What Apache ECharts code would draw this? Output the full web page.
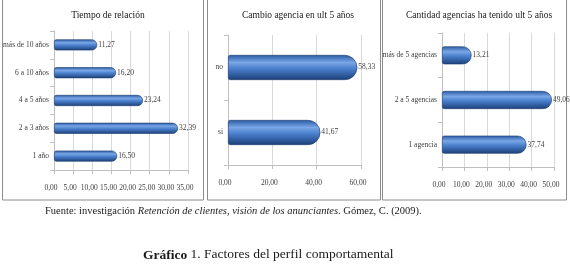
<!DOCTYPE html>
<html>
<head>
<meta charset="utf-8">
<script src="https://cdn.jsdelivr.net/npm/echarts@6/dist/echarts.min.js"></script>
<style>
  html, body { margin: 0; padding: 0; background: #fff; }
  #chart { width: 570px; height: 266px; }
</style>
</head>
<body>
<div id="chart"></div>
<script>
// panel 1 - Tiempo de relación
const tiempoCats = ['1 año', '2 a 3 años', '4 a 5 años', '6 a 10 años', 'más de 10 años'];
const tiempoVals = [16.50, 32.39, 23.24, 16.20, 11.27];
// panel 2 - Cambio agencia
const cambioCats = ['si', 'no'];
const cambioVals = [41.67, 58.33];
// panel 3 - Cantidad agencias
const cantidadCats = ['1 agencia', '2 a 5 agencias', 'más de 5 agencias'];
const cantidadVals = [37.74, 49.06, 13.21];

const serif = '"Liberation Serif", "DejaVu Serif", serif';
const fmt = v => v.toFixed(2).replace('.', ',');

const barColor = new echarts.graphic.LinearGradient(0, 0, 0, 1, [
  { offset: 0, color: '#2a5aa3' },
  { offset: 0.3, color: '#79a6e6' },
  { offset: 0.55, color: '#4a7fcc' },
  { offset: 1, color: '#1b3f78' }
]);

const panels = [
  { title: 'Tiempo de relación', cx: 103, grid: { left: 53, top: 31, width: 135, height: 139 }, max: 35, interval: 5, cats: tiempoCats, vals: tiempoVals, bw: 11 },
  { title: 'Cambio agencia en ult 5 años', cx: 293, grid: { left: 228, top: 35, width: 133, height: 130 }, max: 60, interval: 20, cats: cambioCats, vals: cambioVals, bw: 25 },
  { title: 'Cantidad agencias ha tenido ult 5 años', cx: 474, grid: { left: 442, top: 33, width: 112, height: 134 }, max: 50, interval: 10, cats: cantidadCats, vals: cantidadVals, bw: 18 }
];

// width of the bold word of the caption, so the rest can follow it
const ctx = document.createElement('canvas').getContext('2d');
ctx.font = 'bold 13.5px ' + serif;
const boldW = ctx.measureText('Gráfico').width;

const chart = echarts.init(document.getElementById('chart'), null, { renderer: 'canvas' });

const option = {
  animation: false,
  title: panels.map(p => ({
    text: p.title,
    left: p.cx,
    top: 5,
    textAlign: 'center',
    textStyle: { fontFamily: serif, fontSize: 9.5, fontWeight: 'normal', color: '#1a1a1a' }
  })),
  grid: panels.map(p => p.grid),
  xAxis: panels.map((p, i) => ({
    type: 'value',
    gridIndex: i,
    min: 0,
    max: p.max,
    interval: p.interval,
    axisLine: { show: true, lineStyle: { color: '#bfbfbf' } },
    axisTick: { show: true, length: 4, lineStyle: { color: '#bfbfbf' } },
    axisLabel: { fontFamily: serif, fontSize: 7.5, color: '#404040', margin: 14, formatter: fmt, padding: [0, 6, 0, 0] },
    splitLine: { show: true, lineStyle: { color: '#d9d9d9' } }
  })),
  yAxis: panels.map((p, i) => ({
    type: 'category',
    gridIndex: i,
    data: p.cats,
    axisLine: { show: true, lineStyle: { color: '#bfbfbf' } },
    axisTick: { show: true, length: 4, lineStyle: { color: '#bfbfbf' } },
    axisLabel: { fontFamily: serif, fontSize: 7.5, color: '#404040', margin: 5 }
  })),
  series: panels.map((p, i) => ({
    type: 'bar',
    xAxisIndex: i,
    yAxisIndex: i,
    data: p.vals,
    barWidth: p.bw,
    itemStyle: {
      color: barColor,
      borderColor: '#1a3a6b',
      borderWidth: 0.6,
      borderRadius: [2, p.bw / 2, p.bw / 2, 2]
    },
    label: {
      show: true,
      position: 'right',
      distance: 1,
      fontFamily: serif,
      fontSize: 7.5,
      color: '#404040',
      formatter: d => fmt(d.value)
    }
  })),
  graphic: [
    { type: 'rect', shape: { x: 2.5, y: -2, width: 201, height: 202 }, style: { fill: 'none', stroke: '#8c8c8c', lineWidth: 1 } },
    { type: 'rect', shape: { x: 207.5, y: -2, width: 173, height: 202 }, style: { fill: 'none', stroke: '#8c8c8c', lineWidth: 1 } },
    { type: 'rect', shape: { x: 382.5, y: -2, width: 184, height: 202 }, style: { fill: 'none', stroke: '#8c8c8c', lineWidth: 1 } },
    {
      type: 'text', left: 45, top: 206,
      style: {
        text: '{n|Fuente: investigación }{i|Retención de clientes, visión de los anunciantes}{n|. Gómez, C. (2009).}',
        fontFamily: serif, fontSize: 10.5, fill: '#1a1a1a',
        rich: {
          n: { fontFamily: serif, fontSize: 10.5, lineHeight: 14, fill: '#1a1a1a' },
          i: { fontFamily: serif, fontSize: 10.5, lineHeight: 14, fontStyle: 'italic', fill: '#1a1a1a' }
        }
      }
    },
    {
      type: 'text', x: 143, y: 256,
      style: {
        text: 'Gráfico', fontFamily: serif, fontSize: 13.5, fontWeight: 'bold',
        fill: '#1a1a1a', verticalAlign: 'middle'
      }
    },
    {
      type: 'text', x: 143 + boldW, y: 254,
      style: {
        text: ' 1. Factores del perfil comportamental', fontFamily: serif, fontSize: 13.5,
        fill: '#1a1a1a', verticalAlign: 'middle'
      }
    }
  ]
};

chart.setOption(option);
</script>
</body>
</html>
